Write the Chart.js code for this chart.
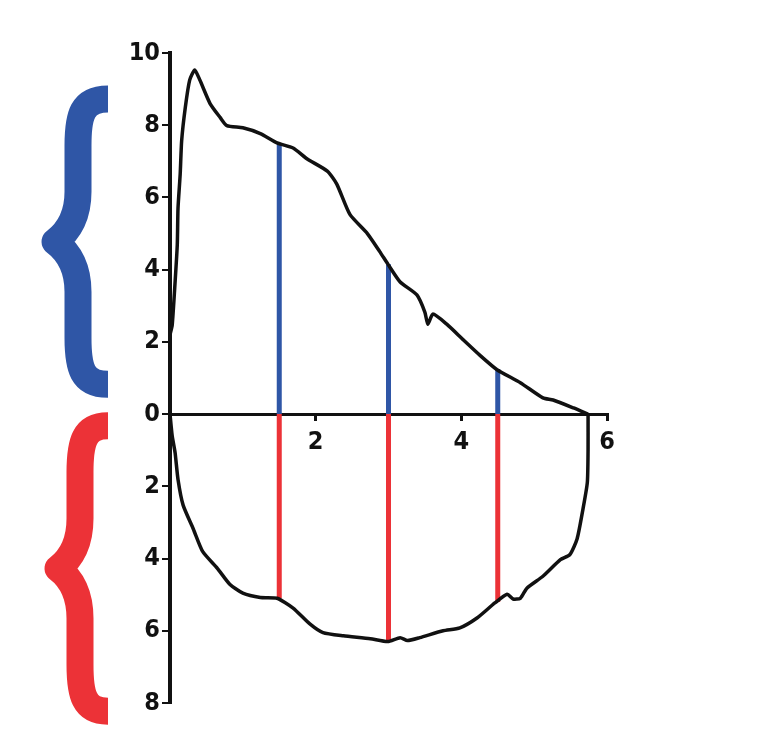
<!DOCTYPE html>
<html>
<head>
<meta charset="utf-8">
<script src="https://cdn.jsdelivr.net/npm/chart.js@4.4.0/dist/chart.umd.min.js"></script>
<style>
  html, body { margin: 0; padding: 0; background: #fff; }
  #wrap { width: 757px; height: 736px; position: relative; }
</style>
</head>
<body>
<div id="wrap"><canvas id="chart"></canvas></div>
<script>
// upper curve (above the axis)
const upperX = [0.0, 0.03, 0.07, 0.10, 0.11, 0.14, 0.16, 0.21, 0.27, 0.34, 0.41, 0.55, 0.69, 0.78, 1.00, 1.24, 1.47, 1.69, 1.88, 2.16, 2.29, 2.47, 2.71, 2.88, 2.99, 3.16, 3.39, 3.50, 3.54, 3.61, 3.80, 4.02, 4.26, 4.49, 4.81, 5.12, 5.26, 5.54, 5.74];
const upperY = [2.2, 2.46, 3.66, 4.69, 5.70, 6.65, 7.57, 8.49, 9.25, 9.53, 9.25, 8.60, 8.21, 7.99, 7.93, 7.77, 7.51, 7.37, 7.07, 6.73, 6.37, 5.53, 5.00, 4.50, 4.16, 3.66, 3.30, 2.82, 2.49, 2.77, 2.49, 2.07, 1.62, 1.23, 0.87, 0.45, 0.39, 0.17, 0.0];

// lower curve (below the axis)
const lowerX = [0.0, 0.03, 0.07, 0.11, 0.18, 0.32, 0.45, 0.65, 0.82, 1.00, 1.24, 1.47, 1.69, 1.92, 2.10, 2.38, 2.75, 2.99, 3.16, 3.26, 3.43, 3.75, 3.98, 4.22, 4.46, 4.63, 4.71, 4.81, 4.90, 5.12, 5.36, 5.49, 5.59, 5.67, 5.73, 5.74, 5.74];
const lowerY = [0.0, -0.60, -1.07, -1.81, -2.52, -3.18, -3.81, -4.27, -4.71, -4.96, -5.08, -5.10, -5.37, -5.81, -6.05, -6.14, -6.22, -6.30, -6.19, -6.27, -6.19, -6.00, -5.92, -5.64, -5.23, -4.99, -5.12, -5.10, -4.82, -4.49, -4.03, -3.89, -3.45, -2.63, -1.89, -0.99, 0.0];

// vertical strips
const stripX = [1.5, 3.0, 4.5];
const stripTop = [7.5, 4.15, 1.25];
const stripBottom = [-5.1, -6.3, -5.2];

// tick labels
const xTickLabels = ["", "2", "4", "6"];

const BLUE = "#2f56a6";
const RED = "#ec3237";

const toPoints = (xs, ys) => xs.map((x, i) => ({ x: x, y: ys[i] }));
const stripPoints = (ends) => {
  const pts = [];
  stripX.forEach((x, i) => {
    pts.push({ x: x, y: 0 }, { x: x, y: ends[i] }, { x: x, y: null });
  });
  return pts;
};

// big curly braces on the left, anchored to the y scale
const bracePlugin = {
  id: "braces",
  afterDraw(chart) {
    const ctx = chart.ctx;
    const y = chart.scales.y;
    const spans = [
      { from: 9.1, to: 0.45, color: BLUE, xs: 78, xt: 55 },
      { from: 0.05, to: -8.6, color: RED, xs: 80, xt: 58 },
    ];
    ctx.save();
    spans.forEach((s) => {
      const yT = y.getPixelForValue(s.from);
      const yB = y.getPixelForValue(s.to);
      const yM = (yT + yB) / 2;
      const xe = 108, w = 27, xs = s.xs, xt = s.xt;
      ctx.strokeStyle = s.color;
      ctx.lineWidth = w;
      ctx.lineCap = "butt";
      ctx.lineJoin = "round";
      ctx.beginPath();
      ctx.moveTo(xe, yT + w / 2);
      ctx.bezierCurveTo(xs + 4, yT + w / 2, xs, yT + 30, xs, yT + 60);
      ctx.lineTo(xs, yM - 50);
      ctx.bezierCurveTo(xs, yM - 20, xt + 8, yM - 6, xt, yM);
      ctx.bezierCurveTo(xt + 8, yM + 6, xs, yM + 20, xs, yM + 50);
      ctx.lineTo(xs, yB - 60);
      ctx.bezierCurveTo(xs, yB - 30, xs + 4, yB - w / 2, xe, yB - w / 2);
      ctx.stroke();
    });
    ctx.restore();
  },
};

const labelFont = { family: "'DejaVu Sans Condensed', 'Liberation Sans Narrow', 'DejaVu Sans'", size: 25, weight: "bold" };

new Chart(document.getElementById("chart"), {
  type: "scatter",
  data: {
    datasets: [
      {
        data: toPoints(upperX, upperY),
        showLine: true,
        borderColor: "#111",
        borderWidth: 3.5,
        pointRadius: 0,
        tension: 0.2,
      },
      {
        data: toPoints(lowerX, lowerY),
        showLine: true,
        borderColor: "#111",
        borderWidth: 3.5,
        pointRadius: 0,
        tension: 0.2,
      },
      {
        data: stripPoints(stripTop),
        showLine: true,
        borderColor: BLUE,
        borderWidth: 5,
        pointRadius: 0,
      },
      {
        data: stripPoints(stripBottom),
        showLine: true,
        borderColor: RED,
        borderWidth: 5,
        pointRadius: 0,
      },
    ],
  },
  options: {
    responsive: true,
    maintainAspectRatio: false,
    animation: false,
    layout: { padding: { left: 0, right: 150, top: 53, bottom: 33 } },
    plugins: { legend: { display: false }, tooltip: { enabled: false } },
    scales: {
      x: {
        type: "linear",
        min: 0,
        max: 6,
        position: { y: 0 },
        z: 1,
        afterFit: (s) => { s.height = 0; },
        grid: { drawOnChartArea: false, color: "#111", lineWidth: 3, tickLength: 5 },
        border: { color: "#111", width: 3 },
        ticks: {
          stepSize: 2,
          color: "#111",
          font: labelFont,
          padding: 8,
          maxRotation: 0,
          callback: (v) => xTickLabels[v / 2],
        },
      },
      y: {
        type: "linear",
        min: -8,
        max: 10,
        position: "left",
        z: 1,
        afterFit: (s) => { s.width = 170; },
        grid: { drawOnChartArea: false, color: "#111", lineWidth: 2, tickLength: 8 },
        border: { color: "#111", width: 4 },
        ticks: {
          stepSize: 2,
          color: "#111",
          font: labelFont,
          padding: 2,
          callback: (v) => String(Math.abs(v)),
        },
      },
    },
  },
  plugins: [bracePlugin],
});
</script>
</body>
</html>
